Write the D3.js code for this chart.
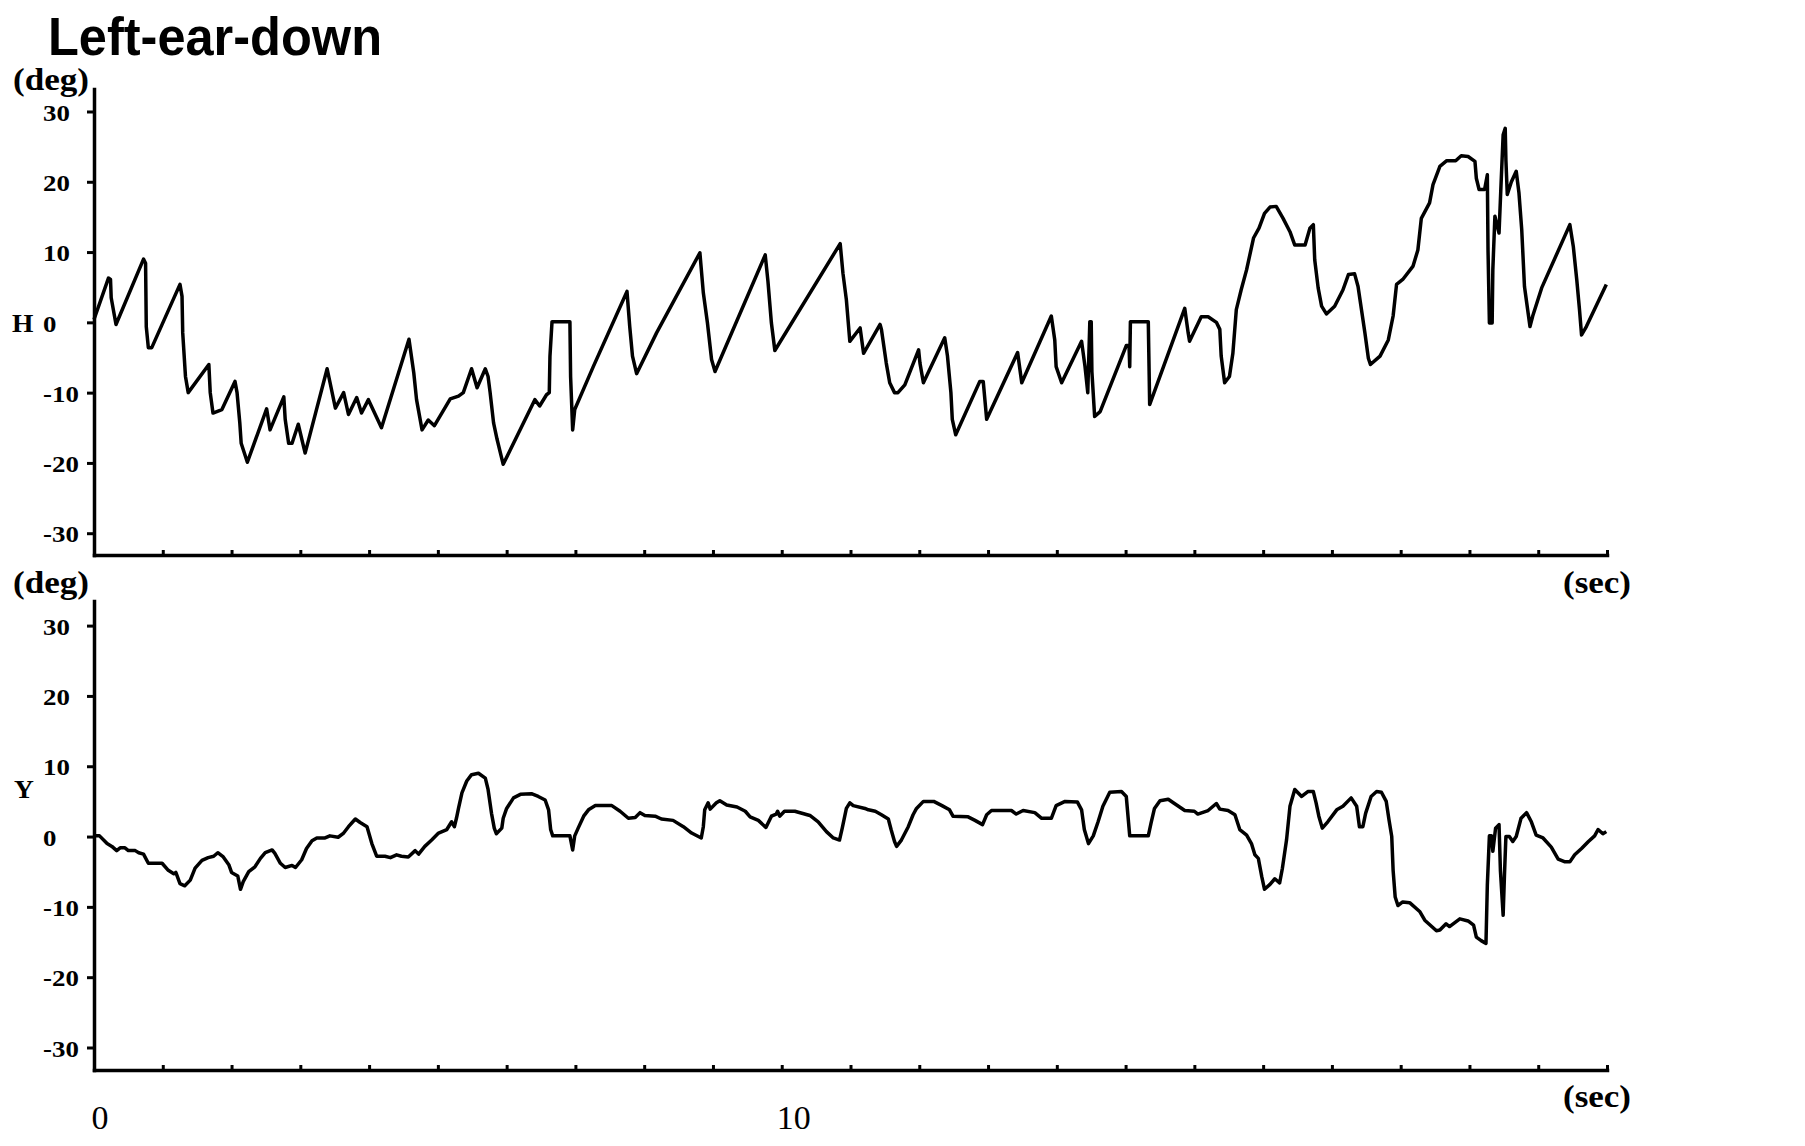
<!DOCTYPE html>
<meta charset="utf-8">
<html>
<head>
<title>Left-ear-down</title>
<script src="https://d3js.org/d3.v7.min.js"></script>
<style>
  body { margin: 0; background: #fff; }
  svg { display: block; }
</style>
</head>
<body>
<div id="chart"></div>
<script>
// horizontal (H) trace, deg over sec
var hTime = [0.00,0.21,0.24,0.25,0.32,0.72,0.75,0.76,0.79,0.84,1.25,1.28,1.29,1.33,1.37,1.67,1.69,1.73,1.86,2.05,
  2.08,2.12,2.14,2.23,2.51,2.56,2.76,2.78,2.83,2.88,2.97,3.07,3.39,3.51,3.63,3.70,3.82,3.89,3.99,4.18,
  4.58,4.65,4.69,4.77,4.86,4.95,5.18,5.30,5.37,5.49,5.57,5.69,5.73,5.76,5.81,5.86,5.95,6.41,6.48,6.58,
  6.62,6.63,6.66,6.92,6.93,6.96,6.99,7.26,7.75,7.79,7.83,7.89,8.18,8.81,8.86,8.92,8.98,9.03,9.76,9.80,
  9.85,9.90,10.85,10.89,10.94,10.99,11.14,11.19,11.43,11.45,11.52,11.57,11.64,11.69,11.79,11.99,12.01,12.06,12.37,12.41,
  12.46,12.48,12.53,12.88,12.93,12.98,13.43,13.49,13.92,13.97,13.99,14.07,14.36,14.41,14.45,14.48,14.50,14.51,14.55,14.63,
  15.01,15.05,15.06,15.07,15.33,15.34,15.35,15.86,15.91,15.93,16.10,16.20,16.32,16.37,16.39,16.44,16.51,16.56,16.61,16.68,
  16.76,16.86,16.94,17.02,17.10,17.19,17.29,17.39,17.46,17.61,17.68,17.73,17.75,17.80,17.85,17.92,18.04,18.16,18.24,18.33,
  18.38,18.43,18.48,18.53,18.56,18.70,18.82,18.89,18.94,19.03,19.18,19.25,19.30,19.42,19.47,19.57,19.67,19.80,19.88,19.98,
  20.08,20.10,20.14,20.22,20.26,20.27,20.29,20.33,20.34,20.37,20.43,20.46,20.49,20.52,20.53,20.55,20.61,20.68,20.72,20.76,
  20.80,20.88,20.92,21.05,21.46,21.51,21.56,21.60,21.63,21.70,21.99];
var hDeg = [0.4,6.3,6.1,3.5,-0.3,9.0,8.4,-0.6,-3.6,-3.6,5.4,3.7,-1.5,-7.7,-10.0,-6.0,-10.0,-12.9,-12.4,-8.4,
  -10.0,-14.3,-17.2,-19.9,-12.3,-15.3,-10.6,-13.8,-17.2,-17.2,-14.5,-18.6,-6.6,-12.2,-10.0,-13.1,-10.7,-12.9,-11.0,-15.0,
  -2.4,-7.2,-11.0,-15.3,-13.9,-14.7,-10.9,-10.5,-10.0,-6.6,-9.3,-6.6,-7.7,-10.0,-14.3,-16.6,-20.2,-11.0,-11.9,-10.3,
  -10.0,-4.8,0.1,0.1,-7.7,-15.3,-12.4,-6.3,4.4,-0.6,-4.8,-7.3,-1.5,9.9,4.2,-0.1,-5.3,-7.0,9.6,5.8,
  -0.1,-4.0,11.2,7.0,3.2,-2.7,-0.8,-4.4,-0.3,-1.0,-5.8,-8.6,-10.0,-10.0,-8.9,-3.9,-5.8,-8.6,-2.2,-4.8,
  -10.0,-13.8,-16.0,-8.4,-8.4,-13.8,-4.3,-8.6,0.9,-2.5,-6.3,-8.6,-2.7,-6.3,-10.0,0.1,0.1,-7.0,-13.4,-12.7,
  -3.3,-3.3,-6.3,0.1,0.1,-5.8,-11.7,2.0,-1.5,-2.7,0.8,0.8,0.0,-1.0,-4.8,-8.6,-7.7,-4.4,1.8,4.6,
  7.5,12.0,13.4,15.5,16.4,16.5,14.8,12.9,11.0,11.0,13.4,13.9,8.9,4.9,2.3,1.2,2.3,4.6,6.8,6.9,
  5.1,1.8,-1.5,-5.1,-6.0,-4.8,-2.5,0.9,5.4,6.1,8.0,10.3,14.8,17.0,19.6,22.2,23.0,23.0,23.7,23.6,
  22.9,20.5,18.9,18.9,21.0,10.3,-0.1,-0.1,7.5,15.1,12.7,19.8,26.7,27.6,23.1,18.2,20.0,21.5,18.4,13.2,
  5.1,-0.6,0.9,4.9,13.9,10.8,6.1,1.8,-1.8,-0.6,5.4];

// vertical (Y) trace, deg over sec
var yTime = [0.00,0.08,0.19,0.26,0.33,0.38,0.45,0.50,0.60,0.65,0.72,0.79,0.99,1.08,1.16,1.19,1.25,1.32,1.40,1.47,
  1.57,1.66,1.74,1.80,1.88,1.96,2.00,2.09,2.13,2.17,2.25,2.34,2.42,2.49,2.59,2.63,2.71,2.78,2.88,2.93,
  3.02,3.09,3.17,3.24,3.36,3.43,3.55,3.63,3.70,3.80,3.87,3.97,4.04,4.11,4.23,4.31,4.40,4.47,4.57,4.67,
  4.72,4.81,4.91,5.01,5.13,5.20,5.24,5.27,5.30,5.35,5.42,5.49,5.59,5.69,5.73,5.78,5.82,5.85,5.93,5.95,
  6.00,6.10,6.20,6.36,6.46,6.56,6.61,6.64,6.67,6.92,6.96,6.99,7.04,7.12,7.19,7.29,7.53,7.65,7.77,7.87,
  7.94,8.01,8.16,8.25,8.42,8.57,8.69,8.83,8.86,8.88,8.93,8.96,9.05,9.10,9.20,9.35,9.47,9.54,9.66,9.77,
  9.85,9.92,9.94,9.97,10.04,10.19,10.41,10.53,10.65,10.75,10.84,10.88,10.94,10.99,11.04,11.21,11.26,11.36,11.45,11.55,
  11.59,11.64,11.67,11.74,11.84,11.91,11.96,12.06,12.21,12.33,12.44,12.49,12.71,12.81,12.92,12.98,13.05,13.34,13.41,13.51,
  13.68,13.78,13.92,13.99,14.12,14.30,14.36,14.40,14.46,14.53,14.60,14.67,14.77,14.94,15.01,15.06,15.33,15.37,15.42,15.50,
  15.62,15.71,15.86,16.00,16.05,16.20,16.32,16.37,16.49,16.59,16.66,16.76,16.83,16.88,16.93,16.98,17.02,17.10,17.17,17.24,
  17.28,17.34,17.39,17.46,17.56,17.65,17.73,17.77,17.81,17.86,17.94,18.07,18.16,18.28,18.36,18.40,18.45,18.49,18.57,18.65,
  18.72,18.79,18.83,18.87,18.89,18.92,18.96,19.03,19.13,19.28,19.35,19.52,19.57,19.66,19.71,19.86,19.98,20.06,20.10,20.17,
  20.24,20.26,20.29,20.32,20.34,20.38,20.43,20.45,20.49,20.51,20.53,20.58,20.63,20.68,20.75,20.83,20.90,20.97,21.07,21.19,
  21.29,21.39,21.46,21.53,21.63,21.73,21.82,21.87,21.94,21.99];
var yDeg = [0.1,0.1,-1.0,-1.4,-2.0,-1.6,-1.6,-2.0,-2.0,-2.3,-2.5,-3.8,-3.8,-4.8,-5.3,-5.1,-6.7,-7.0,-6.2,-4.5,
  -3.4,-3.0,-2.8,-2.3,-2.9,-4.0,-5.1,-5.6,-7.5,-6.4,-5.0,-4.3,-3.1,-2.3,-1.9,-2.4,-3.8,-4.4,-4.1,-4.4,
  -3.3,-1.7,-0.6,-0.2,-0.2,0.1,-0.1,0.5,1.4,2.5,2.0,1.4,-1.0,-2.8,-2.8,-3.0,-2.6,-2.8,-2.9,-2.0,
  -2.5,-1.4,-0.5,0.5,1.0,2.1,1.4,2.6,4.0,6.2,7.9,8.8,9.0,8.3,6.7,3.3,1.2,0.4,1.2,2.6,
  4.0,5.5,6.0,6.1,5.7,5.2,3.8,1.0,0.1,0.1,-1.9,0.1,1.2,2.9,3.8,4.4,4.4,3.6,2.6,2.7,
  3.4,3.0,2.9,2.5,2.3,1.4,0.5,-0.2,1.4,3.8,4.8,3.9,4.8,5.1,4.5,4.2,3.6,2.8,2.3,1.3,
  2.9,3.2,3.6,2.9,3.6,3.6,3.0,2.1,0.7,-0.2,-0.5,1.2,4.0,4.8,4.4,4.0,3.8,3.6,3.1,2.5,
  1.0,-0.7,-1.4,-0.5,1.4,3.1,4.0,5.0,5.0,4.4,3.8,2.9,2.8,2.3,1.7,3.1,3.7,3.7,3.2,3.7,
  3.4,2.6,2.6,4.4,5.0,4.9,3.8,1.0,-1.0,0.1,2.1,4.3,6.3,6.4,5.7,0.1,0.1,1.9,4.0,5.1,
  5.3,4.7,3.7,3.6,3.2,3.7,4.7,3.9,3.7,3.1,1.0,0.2,-1.0,-2.6,-3.1,-5.7,-7.5,-6.8,-6.0,-6.6,
  -4.5,-0.5,4.3,6.7,5.7,6.4,6.4,4.8,2.9,1.2,2.1,3.8,4.3,5.5,4.3,1.4,1.4,3.3,5.7,6.4,
  6.3,5.0,2.4,0.0,-4.8,-8.6,-9.8,-9.3,-9.4,-10.7,-11.9,-13.4,-13.3,-12.4,-12.8,-11.7,-12.0,-12.6,-14.3,-14.8,
  -15.2,-6.9,0.1,0.1,-2.1,1.2,1.7,-4.8,-11.2,-5.2,0.0,0.0,-0.7,0.0,2.6,3.4,2.1,0.2,-0.2,-1.5,
  -3.2,-3.6,-3.6,-2.6,-1.7,-0.7,0.1,1.0,0.4,0.7];

var degTicks = [-30, -20, -10, 0, 10, 20, 30];
var secTicks = d3.range(1, 23);
var secLabels = [0, 10];

var width = 1805, height = 1146;
var serif = "'Liberation Serif', 'Times New Roman', serif";

var svg = d3.select("#chart").append("svg")
  .attr("width", width)
  .attr("height", height);

svg.append("rect").attr("width", width).attr("height", height).attr("fill", "#fff");

var x = d3.scaleLinear().domain([0, 22]).range([94, 1607]);

var panels = [
  {time: hTime, deg: hDeg, top: 89, bottom: 555, lo: -33.1, hi: 33.2, name: "H", nameX: 12, nameY: 332, degY: 90, secY: 593},
  {time: yTime, deg: yDeg, top: 601, bottom: 1070, lo: -33.2, hi: 33.5, name: "Y", nameX: 14, nameY: 798, degY: 593, secY: 1107}
];

svg.append("text")
  .attr("x", 48).attr("y", 55)
  .attr("font-family", "'Liberation Sans', Arial, sans-serif")
  .attr("font-weight", "bold")
  .attr("font-size", 54)
  .attr("textLength", 334)
  .attr("lengthAdjust", "spacingAndGlyphs")
  .text("Left-ear-down");

panels.forEach(function(p) {
  var y = d3.scaleLinear().domain([p.lo, p.hi]).range([p.bottom, p.top]);

  // y axis
  var ga = svg.append("g")
    .attr("transform", "translate(" + x(0) + ",0)")
    .call(d3.axisLeft(y).tickValues(degTicks).tickSize(7).tickSizeOuter(0)
      .tickFormat(function(d) { return String(d); }));
  ga.select(".domain").attr("stroke-width", 3.5).attr("stroke-linecap", "square");
  ga.selectAll(".tick line").attr("stroke-width", 3);
  ga.selectAll(".tick text")
    .attr("fill", "#000")
    .attr("font-family", serif)
    .attr("font-weight", "bold")
    .attr("font-size", 24)
    .attr("text-anchor", "start")
    .attr("dy", "0.36em")
    .attr("transform", "scale(1.12,1)")
    .attr("x", (43 - x(0)) / 1.12);

  // x axis
  var gx = svg.append("g")
    .attr("transform", "translate(0," + p.bottom + ")")
    .call(d3.axisBottom(x).tickValues(secTicks).tickSize(-5).tickSizeOuter(0).tickFormat(""));
  gx.select(".domain").attr("stroke-width", 3.5).attr("stroke-linecap", "square");
  gx.selectAll(".tick line").attr("stroke-width", 3);

  // labels
  svg.append("text")
    .attr("x", 13).attr("y", p.degY)
    .attr("font-family", serif).attr("font-weight", "bold").attr("font-size", 32)
    .attr("textLength", 76).attr("lengthAdjust", "spacingAndGlyphs")
    .text("(deg)");
  svg.append("text")
    .attr("x", 1563).attr("y", p.secY)
    .attr("font-family", serif).attr("font-weight", "bold").attr("font-size", 32)
    .attr("textLength", 68).attr("lengthAdjust", "spacingAndGlyphs")
    .text("(sec)");
  svg.append("text")
    .attr("transform", "translate(" + p.nameX + "," + p.nameY + ") scale(1.1,1)")
    .attr("font-family", serif).attr("font-weight", "bold").attr("font-size", 25)
    .text(p.name);

  // trace
  var pts = p.time.map(function(t, i) { return [t, p.deg[i]]; });
  var line = d3.line()
    .x(function(d) { return x(d[0]); })
    .y(function(d) { return y(d[1]); });
  svg.append("path")
    .datum(pts)
    .attr("d", line)
    .attr("fill", "none")
    .attr("stroke", "#000")
    .attr("stroke-width", 3.5)
    .attr("stroke-linejoin", "round");
});

// seconds labels under the lower panel
svg.selectAll("text.sec")
  .data(secLabels)
  .enter().append("text")
  .attr("class", "sec")
  .attr("x", function(d) { return x(d) + (d === 0 ? 6 : 12); })
  .attr("y", 1129)
  .attr("text-anchor", "middle")
  .attr("font-family", serif)
  .attr("font-size", 34)
  .text(function(d) { return d; });
</script>
</body>
</html>
